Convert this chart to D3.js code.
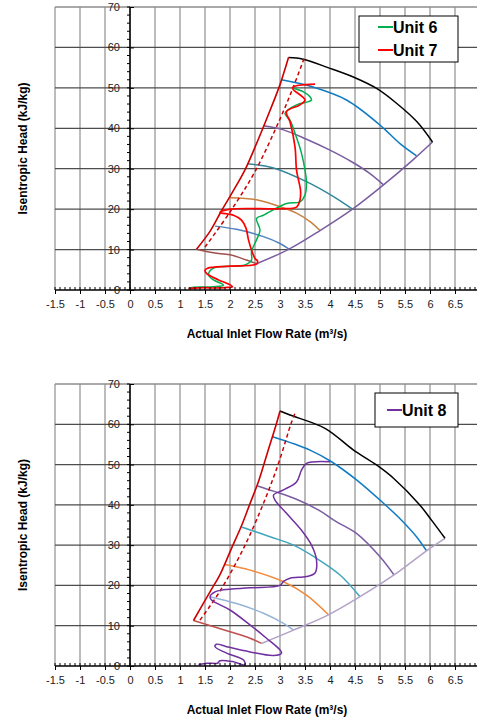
<!DOCTYPE html>
<html>
<head>
<meta charset="utf-8">
<script src="https://cdn.jsdelivr.net/npm/d3@7"></script>
<style>
  body { margin: 0; background: #fff; }
  svg { display: block; font-family: "Liberation Sans", Arial, sans-serif; }
</style>
</head>
<body>
<svg id="chart" width="477" height="721"></svg>
<script>
// tick labels
const xTicks = [-1.5, -1, -0.5, 0, 0.5, 1, 1.5, 2, 2.5, 3, 3.5, 4, 4.5, 5, 5.5, 6, 6.5, 7];
const yTicks = [0, 10, 20, 30, 40, 50, 60, 70];

// top map (flow m3/s, head kJ/kg)
const topSurge     = [[1.33,10.1],[1.6,14.5],[1.83,19.6],[2.05,24.2],[2.3,29.7],[2.55,36.8],[2.8,44.4],[3.0,50.8],[3.17,57.5]];
const topSurgeCtrl = [[1.5,10.6],[2.0,19.3],[2.5,29.3],[3.0,42.3],[3.25,49.7],[3.48,57.2]];
const topMaxSpeed  = [[3.17,57.5],[3.46,57.1],[3.96,55.0],[4.5,52.5],[4.94,49.8],[5.3,46.5],[5.74,41.6],[6.05,36.6]];
const topChoke     = [[2.53,6.5],[3.18,10.1],[3.8,14.7],[4.45,20],[5.07,26],[5.66,32.2],[6.05,36.6]];
const topSpeed1 = [[3.03,52],[3.66,50.2],[4.33,47],[5.0,40.8],[5.4,36.2],[5.73,33.2]];
const topSpeed2 = [[2.67,40.6],[3.07,39.6],[3.53,37.3],[4.0,34.6],[4.45,31.6],[4.8,28.8],[5.07,26]];
const topSpeed3 = [[2.35,31.2],[2.87,30.2],[3.53,26.8],[4.07,23.1],[4.45,20]];
const topSpeed4 = [[2.0,22.8],[2.53,22.3],[3.0,20.6],[3.33,19],[3.6,16.9],[3.8,14.7]];
const topSpeed5 = [[1.7,15.8],[2.13,15],[2.67,13.2],[3.0,11.5],[3.18,10.1]];
const topSpeed6 = [[1.33,10.1],[1.67,9.2],[2.0,8.7],[2.33,7.4],[2.53,6.5]];
const unit6 = [[1.17,0.4],[1.27,0.7],[1.67,0.8],[1.87,1.2],[1.67,2.5],[1.57,3.7],[1.67,5.4],[2.3,6.2],[2.43,7.4],[2.43,9.5],[2.53,12.4],[2.6,14.8],[2.53,17.7],[2.67,18.5],[3.13,21.4],[3.4,21.8],[3.5,23.5],[3.53,26.4],[3.5,29.7],[3.43,33.8],[3.37,36.3],[3.3,38.8],[3.2,42],[3.1,43.7],[3.33,45.8],[3.57,46.6],[3.63,47],[3.6,47.8],[3.47,49],[3.27,49.9]];
const unit7 = [[1.17,0.4],[1.5,0.6],[1.7,0.5],[1.9,0.6],[2.05,0.8],[2.0,1.3],[1.77,2.5],[1.53,4.1],[1.5,4.9],[1.55,5.4],[2.0,5.9],[2.53,6.4],[2.55,7.2],[2.5,7.8],[2.43,9.9],[2.37,12.4],[2.32,15.3],[2.23,17.3],[2.07,18.5],[1.8,19.2],[2.0,20],[3.03,20.1],[3.33,20.5],[3.4,22.3],[3.41,24.7],[3.37,27.2],[3.33,29.7],[3.3,35.4],[3.2,41.6],[3.13,44.1],[3.4,45.8],[3.5,47],[3.25,50],[3.7,50.9]];

// bottom map
const botSurge     = [[1.27,11.3],[1.6,18.4],[1.8,22.7],[2.03,29.2],[2.23,34.8],[2.4,40.3],[2.57,45.8],[2.75,53],[2.93,60.2],[3.0,63.3]];
const botSurgeCtrl = [[1.4,11.4],[1.8,18.6],[2.27,29.2],[2.67,40.4],[2.97,50.3],[3.23,60.5],[3.32,63.3]];
const botMaxSpeed  = [[3.0,63.3],[3.2,62.3],[3.9,59],[4.47,53.6],[4.93,49.9],[5.27,46.6],[5.8,39.9],[6.03,36.2],[6.3,31.7]];
const botChoke     = [[2.63,5.6],[3.27,8.9],[3.97,12.7],[4.6,17.2],[5.28,22.6],[5.93,28.6],[6.3,31.7]];
const botSpeed1 = [[2.85,56.9],[3.6,53.6],[4.03,50.7],[4.53,46.2],[5.07,40.4],[5.43,36.2],[5.73,32.1],[5.93,28.6]];
const botSpeed2 = [[2.55,44.7],[2.87,43.4],[3.33,41.4],[3.8,38.5],[4.1,36],[4.53,32.9],[5.0,27.1],[5.28,22.6]];
const botSpeed3 = [[2.23,34.5],[2.8,32.1],[3.27,30],[3.67,27.2],[4.2,22.6],[4.6,17.2]];
const botSpeed4 = [[1.9,25.2],[2.4,23.8],[3.07,20.9],[3.53,17.6],[3.97,12.7]];
const botSpeed5 = [[1.6,17.2],[2.13,15.5],[2.67,13.1],[3.07,10.6],[3.27,8.9]];
const botSpeed6 = [[1.27,11.3],[2.0,8.5],[2.4,6.9],[2.63,5.6]];
const unit8 = [[1.37,0.4],[1.55,0.7],[1.75,0.7],[1.8,1.3],[2.05,1.1],[2.3,0.3],[2.27,1.5],[1.93,3.2],[1.7,4.8],[1.73,5.4],[1.93,4.8],[2.4,3.5],[2.87,2.6],[3.03,3.2],[3.0,4.0],[2.73,6.9],[2.4,10.2],[2.0,13.9],[1.63,16.4],[1.6,17.2],[1.7,18.4],[1.87,18.9],[2.4,19.4],[3.0,20.0],[3.07,21.0],[3.2,21.8],[3.53,22.2],[3.7,23.1],[3.73,26.3],[3.63,30],[3.43,33.7],[3.13,37.9],[2.9,41.2],[2.87,42.4],[3.07,43.7],[3.33,45.7],[3.43,48.6],[3.53,50.3],[4.0,50.7]];

const svg = d3.select("#chart");
const x = d3.scaleLinear().domain([-1.5, 7]).range([55, 480]);

let drawPanel = (top, bottom, lines, legend) => {
    const y = d3.scaleLinear().domain([0, 70]).range([bottom, top]);
    const g = svg.append("g");

    // grid
    g.selectAll(".vgrid").data(xTicks).enter().append("line")
        .attr("x1", d => x(d)).attr("x2", d => x(d))
        .attr("y1", y(70)).attr("y2", y(0))
        .style("stroke", "#a6a6a6").style("stroke-width", 1.5);
    g.selectAll(".hgrid").data(yTicks.filter(d => d > 0)).enter().append("line")
        .attr("x1", x(-1.5)).attr("x2", x(7))
        .attr("y1", d => y(d)).attr("y2", d => y(d))
        .style("stroke", d => d === 70 ? "#8c8c8c" : "#4d4d4d").style("stroke-width", 1.3);

    // curves
    const line = d3.line().x(d => x(d[0])).y(d => y(d[1])).curve(d3.curveCatmullRom.alpha(0.5));
    lines.forEach(l => {
        g.append("path").datum(l.data)
            .attr("d", line)
            .style("fill", "none")
            .style("stroke", l.color)
            .style("stroke-width", l.width || 1.5)
            .style("stroke-dasharray", l.dash || null);
    });

    // axes through the origin
    const xAxis = g.append("g").attr("transform", `translate(0,${y(0)})`)
        .call(d3.axisBottom(x).tickValues(xTicks).tickSize(4).tickPadding(6).tickFormat(d => String(d)));
    xAxis.select(".domain").attr("d", `M${x(-1.5)},0H${x(7)}`).style("stroke", "#000").style("stroke-width", 1.5);
    xAxis.selectAll("text").style("font-size", "11px").style("fill", "#222");
    g.selectAll(".xminor").data(x.ticks(85)).enter().append("line")
        .attr("x1", d => x(d)).attr("x2", d => x(d))
        .attr("y1", y(0)).attr("y2", y(0) - 3)
        .style("stroke", "#000").style("stroke-width", 1);

    const yAxis = g.append("g").attr("transform", `translate(${x(0)},0)`)
        .call(d3.axisLeft(y).tickValues(yTicks).tickSize(-4).tickPadding(10).tickFormat(d => String(d)));
    yAxis.select(".domain").attr("d", `M0,${y(0)}V${y(70)}`).style("stroke", "#000").style("stroke-width", 1.5);
    yAxis.selectAll("text").style("font-size", "11px").style("fill", "#222");
    g.selectAll(".yminor").data(y.ticks(35)).enter().append("line")
        .attr("x1", x(0) - 3).attr("x2", x(0))
        .attr("y1", d => y(d)).attr("y2", d => y(d))
        .style("stroke", "#000").style("stroke-width", 1);

    // titles
    g.append("text").attr("x", 267).attr("y", bottom + 48)
        .attr("text-anchor", "middle").style("font-size", "12px").style("font-weight", "bold")
        .text("Actual Inlet Flow Rate (m³/s)");
    g.append("text").attr("transform", `translate(27,${(top + bottom) / 2}) rotate(-90)`)
        .attr("text-anchor", "middle").style("font-size", "12px").style("font-weight", "bold")
        .text("Isentropic Head (kJ/kg)");

    // legend
    const lg = g.append("g");
    lg.append("rect").attr("x", legend.x).attr("y", legend.y)
        .attr("width", legend.w).attr("height", legend.h)
        .style("fill", "#fff").style("stroke", "#000").style("stroke-width", 1);
    legend.items.forEach((it, i) => {
        const cy = legend.y + legend.first + i * 23;
        lg.append("line").attr("x1", legend.lx).attr("x2", legend.lx + 15)
            .attr("y1", cy).attr("y2", cy)
            .style("stroke", it.color).style("stroke-width", 2);
        lg.append("text").attr("x", legend.lx + 15).attr("y", cy + 5.5)
            .style("font-size", "16px").style("font-weight", "bold").text(it.name);
    });
};

drawPanel(7, 290, [
    { data: topSpeed6, color: "#a0504d" },
    { data: topSpeed5, color: "#4f81bd" },
    { data: topSpeed4, color: "#c8803f" },
    { data: topSpeed3, color: "#31869b" },
    { data: topSpeed2, color: "#7a5ca0" },
    { data: topSpeed1, color: "#0f7bc4" },
    { data: topChoke, color: "#7a5ca0" },
    { data: topMaxSpeed, color: "#000" },
    { data: topSurgeCtrl, color: "#cc0000", dash: "4,3" },
    { data: topSurge, color: "#cc0000", width: 1.6 },
    { data: unit6, color: "#00b050" },
    { data: unit7, color: "#ff0000", width: 1.7 }
], { x: 359, y: 16, w: 99, h: 46, lx: 378, first: 11,
     items: [{ name: "Unit 6", color: "#00b050" }, { name: "Unit 7", color: "#ff0000" }] });

drawPanel(384, 666, [
    { data: botSpeed6, color: "#c0504d" },
    { data: botSpeed5, color: "#95b3d7" },
    { data: botSpeed4, color: "#f08a3c" },
    { data: botSpeed3, color: "#3fa5bd" },
    { data: botSpeed2, color: "#7a5ca0" },
    { data: botSpeed1, color: "#0f7bc4" },
    { data: botChoke, color: "#b3a2c7" },
    { data: botMaxSpeed, color: "#000" },
    { data: botSurgeCtrl, color: "#cc0000", dash: "4,3" },
    { data: botSurge, color: "#cc0000", width: 1.6 },
    { data: unit8, color: "#7030a0" }
], { x: 375, y: 393, w: 83, h: 34, lx: 387, first: 17,
     items: [{ name: "Unit 8", color: "#7030a0" }] });
</script>
</body>
</html>
